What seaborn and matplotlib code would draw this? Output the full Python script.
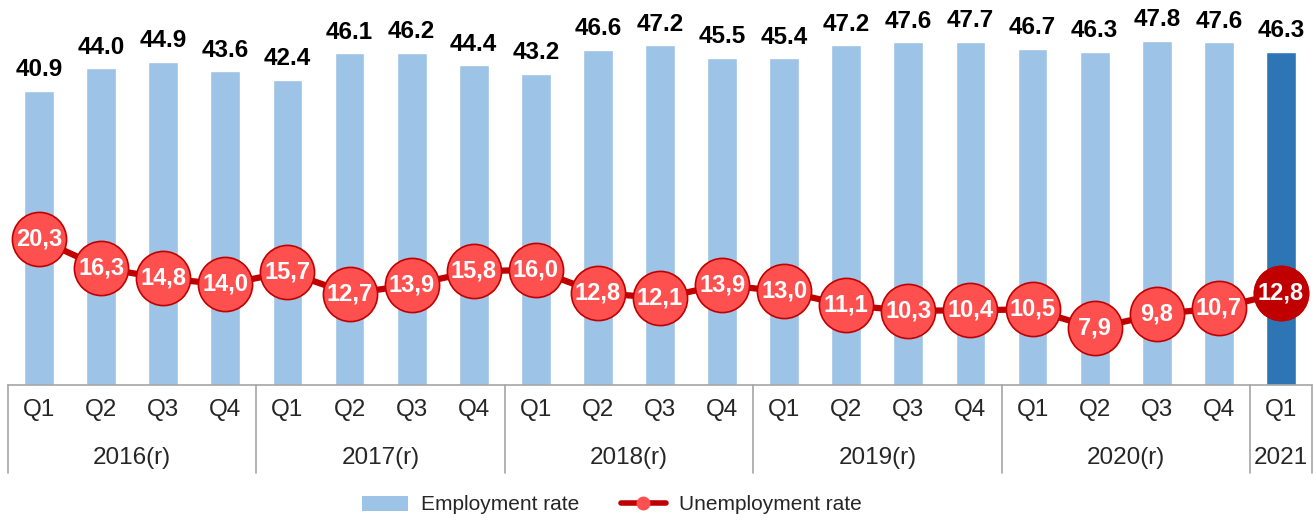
import matplotlib
matplotlib.use("Agg")
import matplotlib.pyplot as plt
import seaborn as sns
import pandas as pd
import numpy as np
from matplotlib.patches import Patch
from matplotlib.lines import Line2D

sns.set_style("white")
plt.rcParams['font.family'] = ['Liberation Sans', 'DejaVu Sans']

# 数据
years = ["2016(r)", "2017(r)", "2018(r)", "2019(r)", "2020(r)", "2021"]
quarters_per_year = [4, 4, 4, 4, 4, 1]
employment = [40.9, 44.0, 44.9, 43.6, 42.4, 46.1, 46.2, 44.4, 43.2, 46.6, 47.2,
              45.5, 45.4, 47.2, 47.6, 47.7, 46.7, 46.3, 47.8, 47.6, 46.3]
unemployment = [20.3, 16.3, 14.8, 14.0, 15.7, 12.7, 13.9, 15.8, 16.0, 12.8, 12.1,
                13.9, 13.0, 11.1, 10.3, 10.4, 10.5, 7.9, 9.8, 10.7, 12.8]

quarters = []
period = []
for y, n in zip(years, quarters_per_year):
    for q in range(n):
        quarters.append(f"Q{q + 1}")
        period.append(f"{y} Q{q + 1}")

df = pd.DataFrame({"period": period, "quarter": quarters,
                   "employment": employment, "unemployment": unemployment})
df["latest"] = ["old"] * (len(df) - 1) + ["new"]

light_blue = "#9DC3E6"
dark_blue = "#2E75B6"
dark_red = "#C00000"
red = "#FF5050"
grid_gray = "#A6A6A6"

fig = plt.figure(figsize=(13.16, 5.2), dpi=100)
ax = fig.add_axes([8 / 1316, 135 / 520, 1304 / 1316, 385 / 520])

sns.barplot(data=df, x="period", y="employment", hue="latest",
            palette={"old": light_blue, "new": dark_blue}, width=0.48,
            dodge=False, legend=False, ax=ax, saturation=1)

for cont in ax.containers:
    vals = [b.get_height() for b in cont]
    ax.bar_label(cont, labels=[f"{v:.1f}" if not np.isnan(v) else "" for v in vals],
                 padding=7, fontsize=17.5, fontweight="bold", color="black")

pos = np.arange(len(df))
sns.lineplot(x=pos, y=df["unemployment"], color=dark_red, linewidth=4.5,
             marker="o", markersize=39, markerfacecolor=red,
             markeredgecolor=dark_red, markeredgewidth=1.2, ax=ax, zorder=3)
ax.plot(pos[-1:], df["unemployment"].values[-1:], "o", markersize=39,
        markerfacecolor=dark_red, markeredgecolor=dark_red, zorder=4)
for x, v in zip(pos, df["unemployment"]):
    ax.text(x, v, f"{v:.1f}".replace(".", ","), ha="center", va="center",
            fontsize=17, fontweight="bold", color="white", zorder=5)

ax.set_ylim(0, 53.5)
ax.set_xlim(-0.5, len(df) - 0.5)
ax.set_yticks([])
ax.set_xticks([])
ax.set_xlabel("")
ax.set_ylabel("")
for s in ["left", "right", "top"]:
    ax.spines[s].set_visible(False)
ax.spines["bottom"].set_color(grid_gray)
ax.spines["bottom"].set_linewidth(1.2)

# 分类表格
tr = ax.get_xaxis_transform()
for x, q in zip(pos, quarters):
    ax.text(x, -0.065, q, transform=tr, ha="center", va="center", fontsize=17.5)
start = 0
edges = [-0.5]
for y, n in zip(years, quarters_per_year):
    ax.text(start + (n - 1) / 2, -0.19, y, transform=tr, ha="center",
            va="center", fontsize=17.5)
    start += n
    edges.append(start - 0.5)
for e in edges:
    ax.plot([e, e], [0, -0.229], transform=tr, color=grid_gray, lw=1.2,
            clip_on=False)

handles = [Patch(facecolor=light_blue, edgecolor="none"),
           Line2D([0], [0], color=dark_red, lw=4, marker="o", markersize=9,
                  markerfacecolor=red, markeredgecolor=red)]
fig.legend(handles, ["Employment rate", "Unemployment rate"], loc="center",
           bbox_to_anchor=(612 / 1316, 15 / 520), ncol=2, frameon=False,
           fontsize=15, handlelength=2.2, columnspacing=2.0, handletextpad=0.6)

fig.savefig("out.png", dpi=100)
